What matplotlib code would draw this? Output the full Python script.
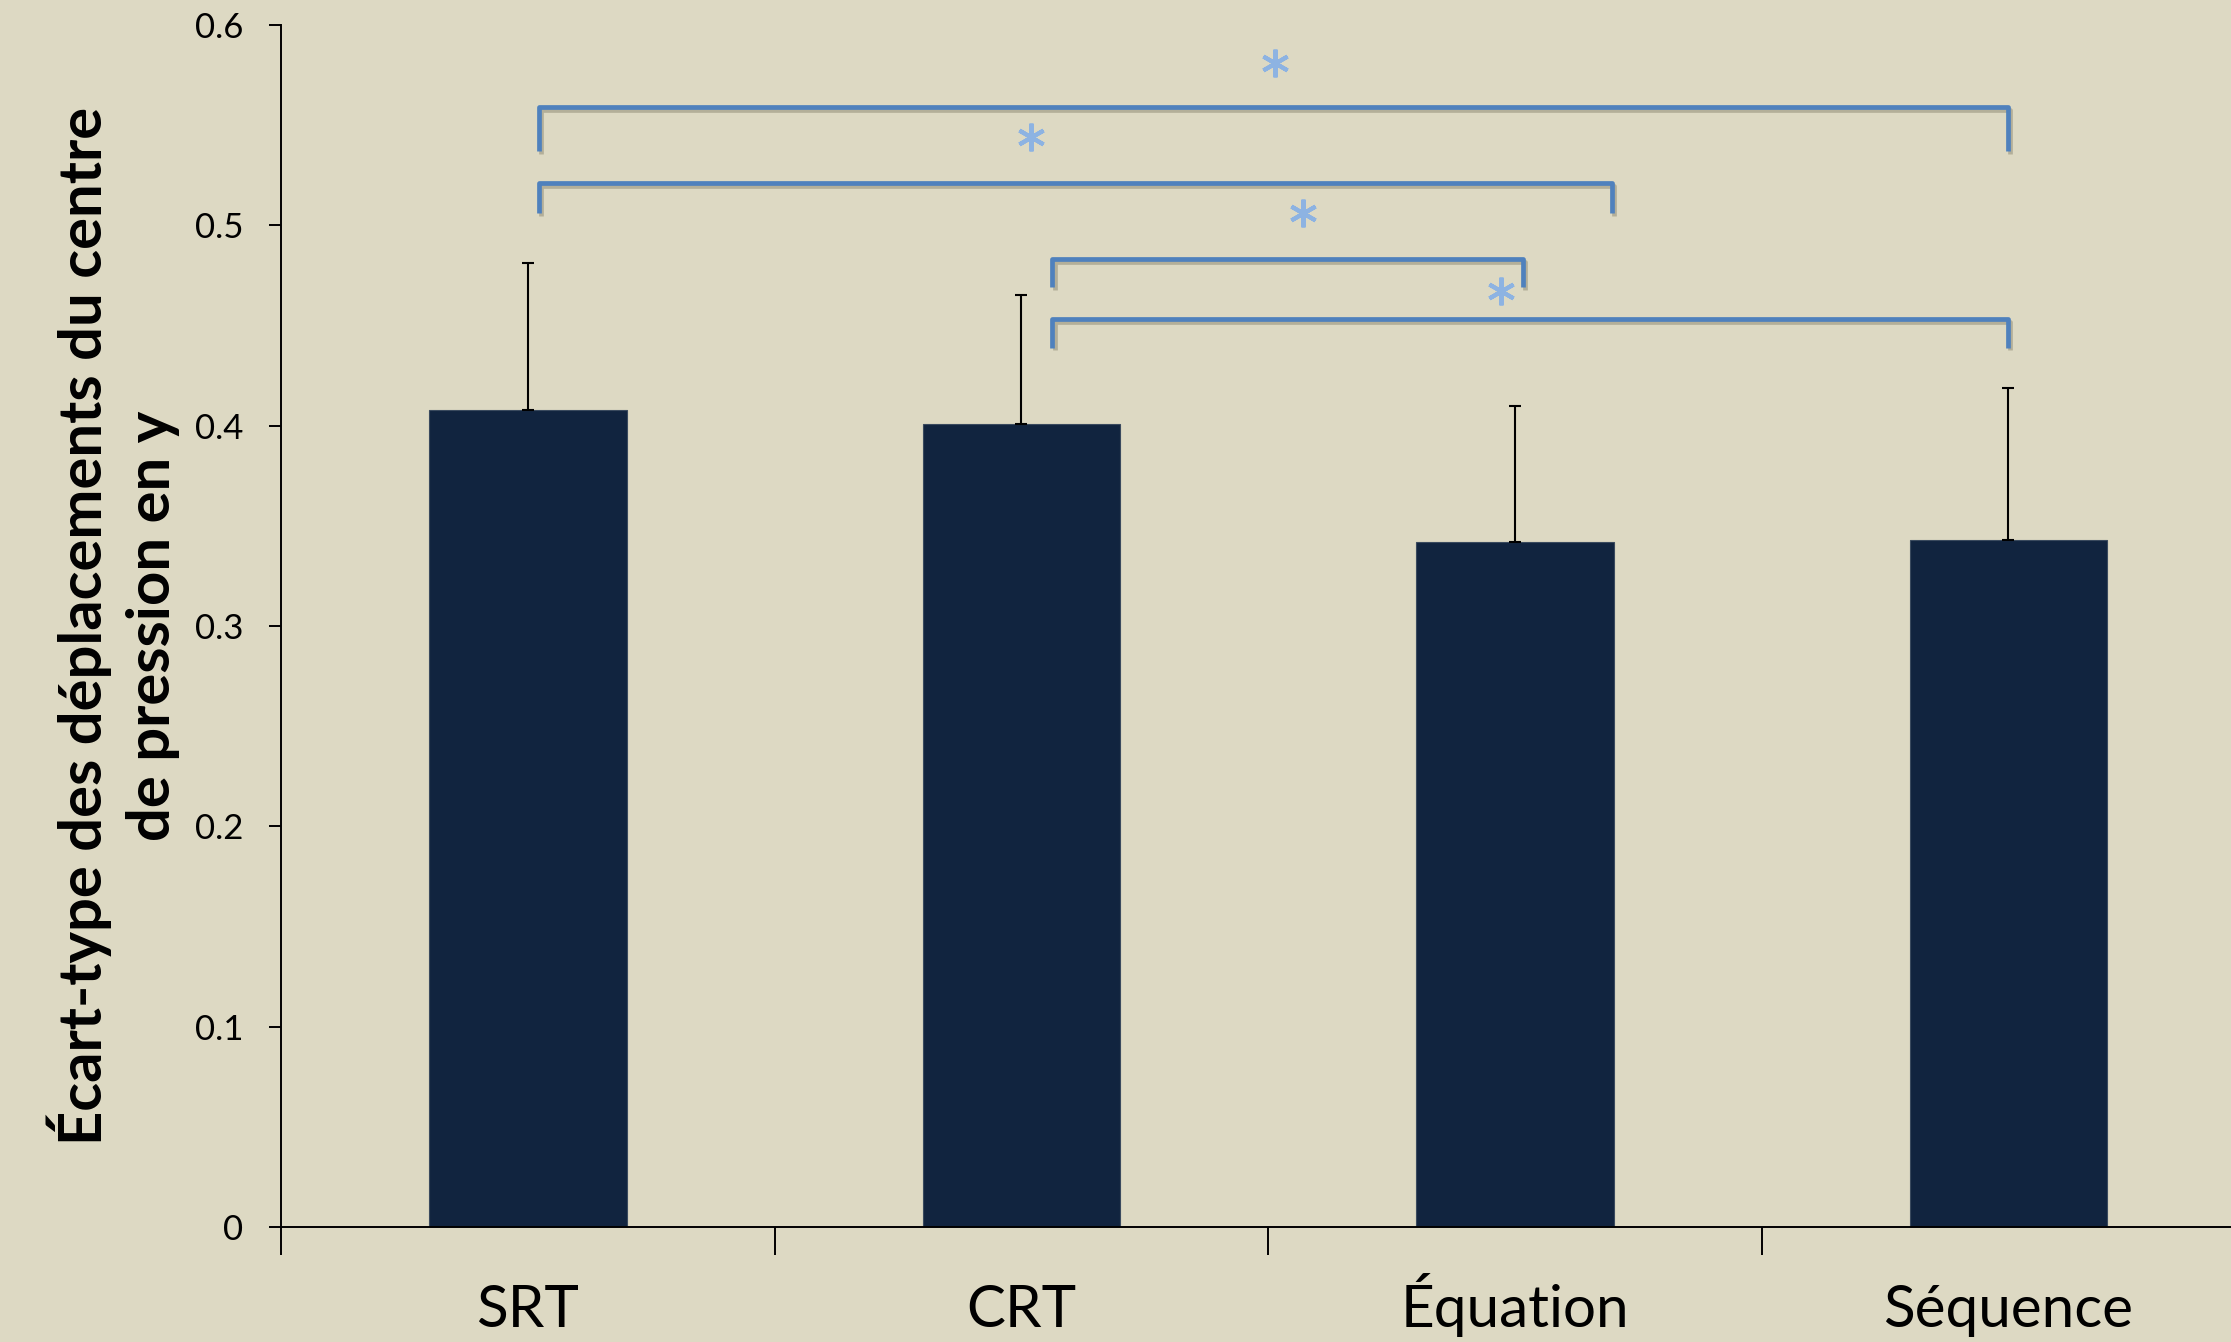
import matplotlib
matplotlib.use("Agg")
import matplotlib.pyplot as plt
import matplotlib.patheffects as pe

# -----------------------------
# data
# -----------------------------
categories = ["SRT", "CRT", "Équation", "Séquence"]
means = [0.408, 0.401, 0.342, 0.343]
sd_upper = [0.073, 0.064, 0.068, 0.076]

# significance brackets: (x start, x end, top y, leg bottom y)
bracket_x0 = [0.023, 0.023, 1.063, 1.063]
bracket_x1 = [3.0, 2.196, 2.017, 3.0]
bracket_top = [0.559, 0.521, 0.483, 0.453]
bracket_leg = [0.537, 0.506, 0.469, 0.439]
star_x = [1.513, 1.02, 1.571, 1.971]
star_y = [0.581, 0.544, 0.506, 0.467]

yticks = [0, 0.1, 0.2, 0.3, 0.4, 0.5, 0.6]
ylabel = "Écart-type des déplacements du centre\nde pression en y"

BG = "#DDD9C3"
BAR = "#11243F"
BRACKET = "#4F81BD"
STAR = "#8DB3E2"

plt.rcParams["font.family"] = ["Lato", "DejaVu Sans"]

fig = plt.figure(figsize=(22.31, 13.42), dpi=100)
fig.patch.set_facecolor(BG)
ax = fig.add_axes([0.126, 0.0857, 0.8848, 0.8957])
ax.set_facecolor(BG)

x = list(range(len(categories)))
ax.bar(x, means, width=0.40, color=BAR, edgecolor="#3a4a5e", linewidth=0.8, zorder=2)
ax.errorbar(x, means, yerr=[[0] * len(means), sd_upper], fmt="none",
            ecolor="black", elinewidth=1.5, capsize=4.5, capthick=1.5, zorder=3)

shadow = [pe.SimpleLineShadow(offset=(1.5, -2), shadow_color="#8a8670", alpha=0.5),
          pe.Normal()]
for x0, x1, top, leg in zip(bracket_x0, bracket_x1, bracket_top, bracket_leg):
    ax.plot([x0, x0, x1, x1], [leg, top, top, leg], color=BRACKET, lw=3.4,
            solid_joinstyle="round", solid_capstyle="butt", path_effects=shadow,
            zorder=4, clip_on=False)
ax.plot(star_x, star_y, linestyle="none", marker=(6, 2, 0), markersize=20,
        markeredgewidth=3, color=STAR, zorder=5, clip_on=False)

ax.set_xlim(-0.5, 3.5)
ax.set_ylim(0, 0.6)
ax.set_yticks(yticks)
ax.set_yticklabels(["0" if v == 0 else f"{v:.1f}" for v in yticks], fontsize=25)
ax.tick_params(axis="y", length=9, width=1.4, pad=18, direction="out")

ax.set_xticks(x)
ax.set_xticklabels(categories, fontsize=42, va="baseline")
ax.tick_params(axis="x", length=0, pad=72)
ax.set_xticks([-0.5, 0.5, 1.5, 2.5, 3.5], minor=True)
ax.tick_params(axis="x", which="minor", length=20, width=1.4, direction="out")

for side in ["top", "right"]:
    ax.spines[side].set_visible(False)
for side in ["left", "bottom"]:
    ax.spines[side].set_linewidth(1.4)

ax.set_ylabel(ylabel, fontsize=43, fontweight="bold", va="center", linespacing=1.32)
ax.yaxis.set_label_coords(-0.085, 0.5)

fig.savefig("out.png", dpi=100, facecolor=BG)
